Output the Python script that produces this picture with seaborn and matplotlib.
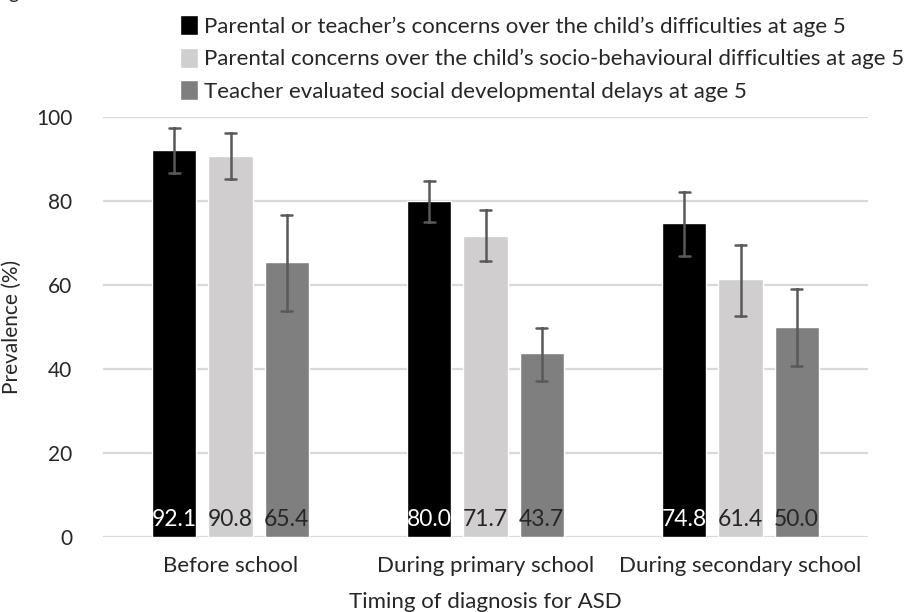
import numpy as np
import pandas as pd
import matplotlib
matplotlib.use("Agg")
import matplotlib.pyplot as plt
import seaborn as sns

categories = ["Before school", "During primary school", "During secondary school"]
series = [
    "Parental or teacher\u2019s concerns over the child\u2019s difficulties at age 5",
    "Parental concerns over the child\u2019s socio-behavioural difficulties at age 5",
    "Teacher evaluated social developmental delays at age 5",
]
values_s1 = [92.1, 80.0, 74.8]
values_s2 = [90.8, 71.7, 61.4]
values_s3 = [65.4, 43.7, 50.0]
lower_s1 = [86.7, 74.9, 67.0]
lower_s2 = [85.3, 65.6, 52.6]
lower_s3 = [53.8, 37.1, 40.6]
upper_s1 = [97.4, 84.8, 82.2]
upper_s2 = [96.3, 77.8, 69.6]
upper_s3 = [76.6, 49.8, 59.1]
yticks = [0, 20, 40, 60, 80, 100]
colors = ["#000000", "#D0CECE", "#7F7F7F"]
label_colors = ["#FFFFFF", "#262626", "#262626"]

vals = [values_s1, values_s2, values_s3]
lows = [lower_s1, lower_s2, lower_s3]
ups = [upper_s1, upper_s2, upper_s3]

rows = []
for si, s in enumerate(series):
    for ci, c in enumerate(categories):
        for v in (lows[si][ci], vals[si][ci], ups[si][ci]):
            rows.append({"timing": c, "measure": s, "prevalence": v})
df = pd.DataFrame(rows)

sns.set_style("white")
plt.rcParams["font.family"] = ["Lato", "DejaVu Sans"]

fig = plt.figure(figsize=(9.16, 6.12), dpi=100)
ax = fig.add_axes([103 / 916, 1 - 537 / 612, 765 / 916, 420 / 612])

sns.barplot(
    data=df, x="timing", y="prevalence", hue="measure",
    order=categories, hue_order=series, palette=colors,
    estimator="median", errorbar=("pi", 100),
    width=0.659, gap=0.214, saturation=1,
    err_kws={"color": "#595959", "linewidth": 1.8, "zorder": 6},
    capsize=0.13, ax=ax, zorder=3,
)
for ln in ax.lines:
    ln.set_zorder(6)

ax.set_ylim(0, 100)
ax.set_xlim(-0.5, len(categories) - 0.5)
ax.set_yticks(yticks)
ax.set_yticklabels([str(t) for t in yticks])
ax.yaxis.grid(True, color="#D9D9D9", linewidth=1.6, zorder=0)
ax.set_axisbelow(True)
for sp in ax.spines.values():
    sp.set_visible(False)
ax.tick_params(axis="y", length=0, pad=22, labelsize=15, labelcolor="#262626")
ax.tick_params(axis="x", length=0, pad=14, labelsize=16, labelcolor="#262626")
ax.set_ylabel("Prevalence (%)", fontsize=15, color="#262626", labelpad=10)
ax.set_xlabel("Timing of diagnosis for ASD", fontsize=16, color="#262626", labelpad=11)

# data labels near the bottom of each bar
bars = [p for p in ax.patches if p.get_height() > 0]
bars_sorted = sorted(bars, key=lambda p: p.get_x())
for p in bars_sorted:
    fc = p.get_facecolor()
    idx = int(np.argmin([np.sum(np.abs(np.array(matplotlib.colors.to_rgb(c)) - np.array(fc[:3]))) for c in colors]))
    ax.text(p.get_x() + p.get_width() / 2, 1.6, f"{p.get_height():.1f}",
            ha="center", va="bottom", fontsize=16.5, color=label_colors[idx], zorder=5)

handles, labels = ax.get_legend_handles_labels()
if ax.get_legend() is not None:
    ax.get_legend().remove()
fig.legend(handles, labels, loc="upper left", bbox_to_anchor=(160 / 916, 1 + 5 / 612),
           frameon=False, fontsize=16, handlelength=0.8, handleheight=1.0,
           handletextpad=0.3, labelspacing=0.5, labelcolor="#262626")

fig.text(8 / 916, 1 + 1.5 / 612, "g", ha="left", va="baseline", fontsize=14, color="#262626")

fig.savefig("out.png", dpi=100)
